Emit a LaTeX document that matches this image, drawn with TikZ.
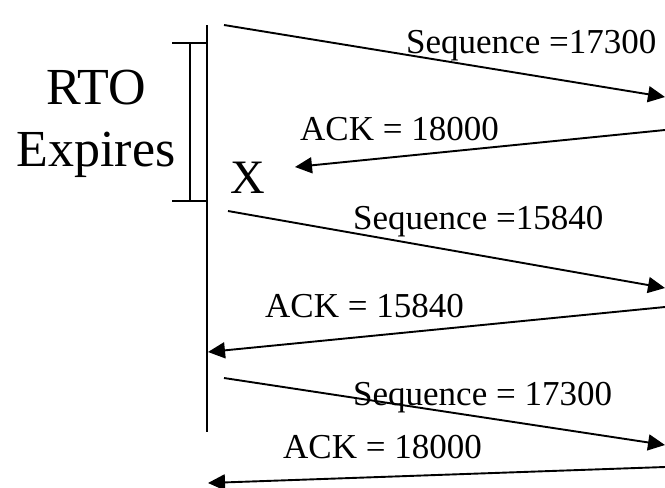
\documentclass[tikz,border=0pt]{standalone}
\usepackage{fontspec}
\setmainfont{Liberation Serif}
\usetikzlibrary{arrows.meta}
\begin{document}
\begin{tikzpicture}[x=1pt,y=-1pt,
  line/.style={line width=1.9pt},
  msg/.style={line width=1.9pt,-{Triangle[length=17pt,width=16pt]}},
  lbl/.style={font=\fontsize{35}{40}\selectfont,anchor=base west,inner sep=0pt},
  big/.style={font=\fontsize{52}{62}\selectfont,align=center,inner sep=0pt}]
\useasboundingbox (0,0) rectangle (665,488);
% timeline
\coordinate (tTop) at (207,25);
\coordinate (tBot) at (207,432);
\draw[line] (tTop) -- (tBot);
% bracket
\coordinate (bTopL) at (172,43);
\coordinate (bTopR) at (207,43);
\coordinate (bBotL) at (172,201);
\coordinate (bBotR) at (207,201);
\coordinate (bTopM) at (190,43);
\coordinate (bBotM) at (190,201);
\draw[line] (bTopL) -- (bTopR);
\draw[line] (bBotL) -- (bBotR);
\draw[line] (bTopM) -- (bBotM);
\node[big] (rto) at (96,124) {RTO\\Expires};
\node[font=\fontsize{48}{56}\selectfont,anchor=base west,inner sep=0pt] (x) at (230,193) {X};
% messages
\coordinate (s1a) at (224,25);  \coordinate (s1b) at (665,97);
\coordinate (a1a) at (665,130); \coordinate (a1b) at (295,167);
\coordinate (s2a) at (228,211); \coordinate (s2b) at (665,288);
\coordinate (a2a) at (665,307); \coordinate (a2b) at (208,352);
\coordinate (s3a) at (224,378); \coordinate (s3b) at (665,445);
\coordinate (a3a) at (665,467); \coordinate (a3b) at (208,483);
\draw[msg] (s1a) -- (s1b);
\draw[msg] (a1a) -- (a1b);
\draw[msg] (s2a) -- (s2b);
\draw[msg] (a2a) -- (a2b);
\draw[msg] (s3a) -- (s3b);
\draw[msg] (a3a) -- (a3b);
% labels
\node[lbl] (l1) at (406,53) {Sequence =17300};
\node[lbl] (l2) at (300,140) {ACK = 18000};
\node[lbl] (l3) at (353,229) {Sequence =15840};
\node[lbl] (l4) at (265,317) {ACK = 15840};
\node[lbl] (l5) at (353,405) {Sequence = 17300};
\node[lbl] (l6) at (283,458) {ACK = 18000};
\end{tikzpicture}
\end{document}
